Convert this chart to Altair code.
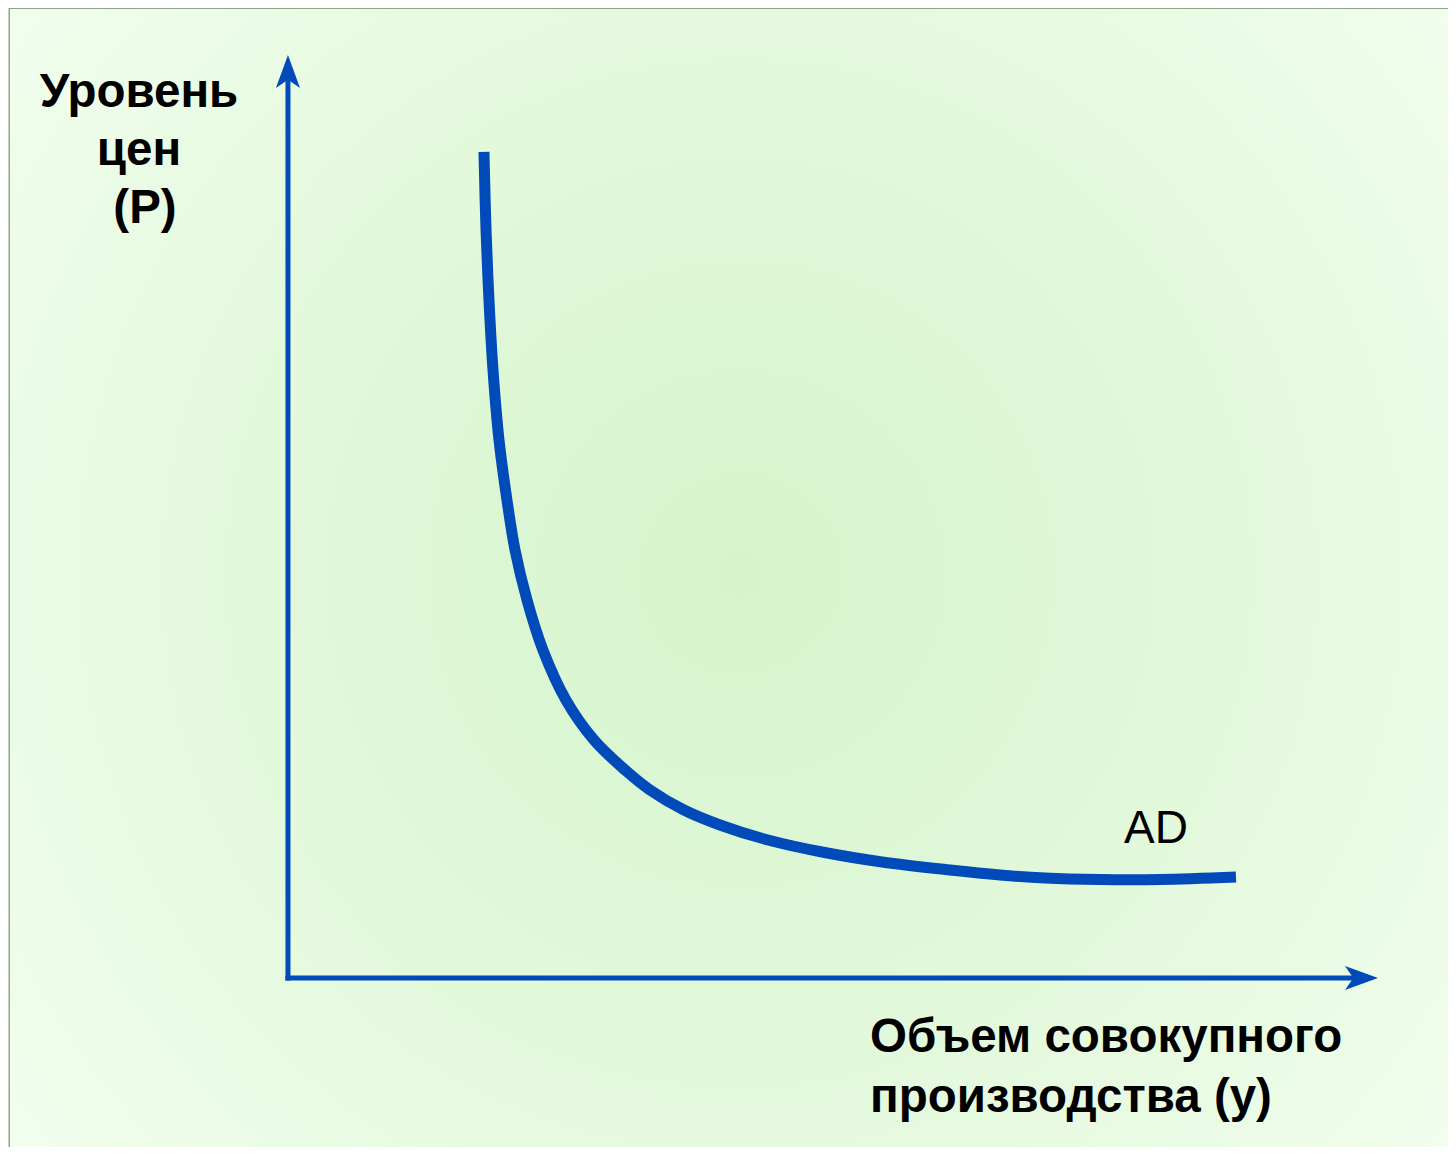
import altair as alt
import pandas as pd

# ---- data ----
# Aggregate demand curve AD: output (y) vs price level (P), in axis units (axes run 0..10)
ad_output = [1.798, 1.817, 1.844, 1.881, 1.936, 2.009, 2.083, 2.193, 2.339, 2.550,
             2.807, 3.092, 3.321, 3.633, 3.963, 4.404, 4.899, 5.450, 6.073, 6.532,
             6.945, 7.450, 8.000, 8.697]
ad_price = [8.949, 8.104, 7.346, 6.587, 5.829, 5.179, 4.637, 4.095, 3.554, 3.012,
            2.579, 2.254, 2.037, 1.820, 1.658, 1.495, 1.365, 1.257, 1.170, 1.116,
            1.083, 1.067, 1.067, 1.094]

axis_max = 10.0
y_label_lines = ["Уровень", "цен", "(P)"]
x_label_lines = ["Объем совокупного", "производства (y)"]
curve_label = "AD"

# ---- layout / style ----
BLUE = "#004bb9"
FONT = "Liberation Sans"
FS = 47.5
W, H = 1438, 1138
X_DOMAIN = [-2.55, 10.642]
Y_DOMAIN = [-1.831, 10.498]
xs = alt.Scale(domain=X_DOMAIN, nice=False, zero=False)
ys = alt.Scale(domain=Y_DOMAIN, nice=False, zero=False)

curve_df = pd.DataFrame({"q": ad_output, "p": ad_price, "i": list(range(len(ad_output)))})

arrow_len_x = 33 / (W / (X_DOMAIN[1] - X_DOMAIN[0]))
arrow_len_y = 33 / (H / (Y_DOMAIN[1] - Y_DOMAIN[0]))
axes_df = pd.DataFrame({
    "x": [0.0, 0.0], "y": [0.0, 0.0],
    "x2": [0.0, axis_max - arrow_len_x * 0.6],
    "y2": [axis_max - arrow_len_y * 0.6, 0.0],
})
arrows_df = pd.DataFrame({
    "x": [0.0, axis_max - arrow_len_x / 2],
    "y": [axis_max - arrow_len_y / 2, 0.0],
    "ang": [0, 90],
})

ARROW = "M0,-1L0.73,1L0,0.5L-0.73,1Z"

gradient = {
    "gradient": "radial",
    "x1": 0.508, "y1": 0.497, "r1": 0,
    "x2": 0.508, "y2": 0.497, "r2": 0.72,
    "stops": [
        {"offset": 0, "color": "#d5f4cb"},
        {"offset": 0.5, "color": "#e3f9dc"},
        {"offset": 1, "color": "#f6fff3"},
    ],
}

one = pd.DataFrame({"k": [0]})

bg = alt.Chart(one).mark_rect(color=gradient, opacity=1).encode(
    x=alt.value(0), x2=alt.value(W), y=alt.value(0), y2=alt.value(H)
)

axes = alt.Chart(axes_df).mark_rule(color=BLUE, strokeWidth=5, strokeCap="square").encode(
    x=alt.X("x:Q", scale=xs, axis=None),
    y=alt.Y("y:Q", scale=ys, axis=None),
    x2="x2:Q", y2="y2:Q",
)

arrows = alt.Chart(arrows_df).mark_point(
    shape=ARROW, filled=True, color=BLUE, opacity=1, size=1089, strokeWidth=0
).encode(
    x=alt.X("x:Q", scale=xs, axis=None),
    y=alt.Y("y:Q", scale=ys, axis=None),
    angle=alt.Angle("ang:Q", scale=None),
)

curve = alt.Chart(curve_df).mark_line(
    color=BLUE, strokeWidth=11, strokeCap="butt", interpolate="catmull-rom"
).encode(
    x=alt.X("q:Q", scale=xs, axis=None),
    y=alt.Y("p:Q", scale=ys, axis=None),
    order="i:Q",
)

ylab1 = alt.Chart(one).mark_text(
    text=y_label_lines[:2], font=FONT, fontSize=FS, fontWeight="bold", color="#000000",
    align="center", baseline="alphabetic", lineHeight=58
).encode(x=alt.value(129), y=alt.value(98))

ylab2 = alt.Chart(one).mark_text(
    text=y_label_lines[2], font=FONT, fontSize=FS, fontWeight="bold", color="#000000",
    align="center", baseline="alphabetic"
).encode(x=alt.value(135), y=alt.value(214))

xlab = alt.Chart(one).mark_text(
    text=x_label_lines, font=FONT, fontSize=FS, fontWeight="bold", color="#000000",
    align="left", baseline="alphabetic", lineHeight=60
).encode(x=alt.value(860), y=alt.value(1043))

adlab = alt.Chart(one).mark_text(
    text=curve_label, font=FONT, fontSize=46, color="#000000",
    align="left", baseline="alphabetic"
).encode(x=alt.value(1114), y=alt.value(834))

chart = alt.layer(bg, curve, axes, arrows, ylab1, ylab2, xlab, adlab).properties(
    width=W, height=H,
    padding={"left": 2, "top": 1, "right": 0, "bottom": 0},
    autosize=alt.AutoSizeParams(type="none"),
    background="#ffffff",
).configure_view(
    fill=None, stroke="#8ca884", strokeWidth=3
)

chart.save("out.html", embed_options={"renderer": "svg", "actions": False})
